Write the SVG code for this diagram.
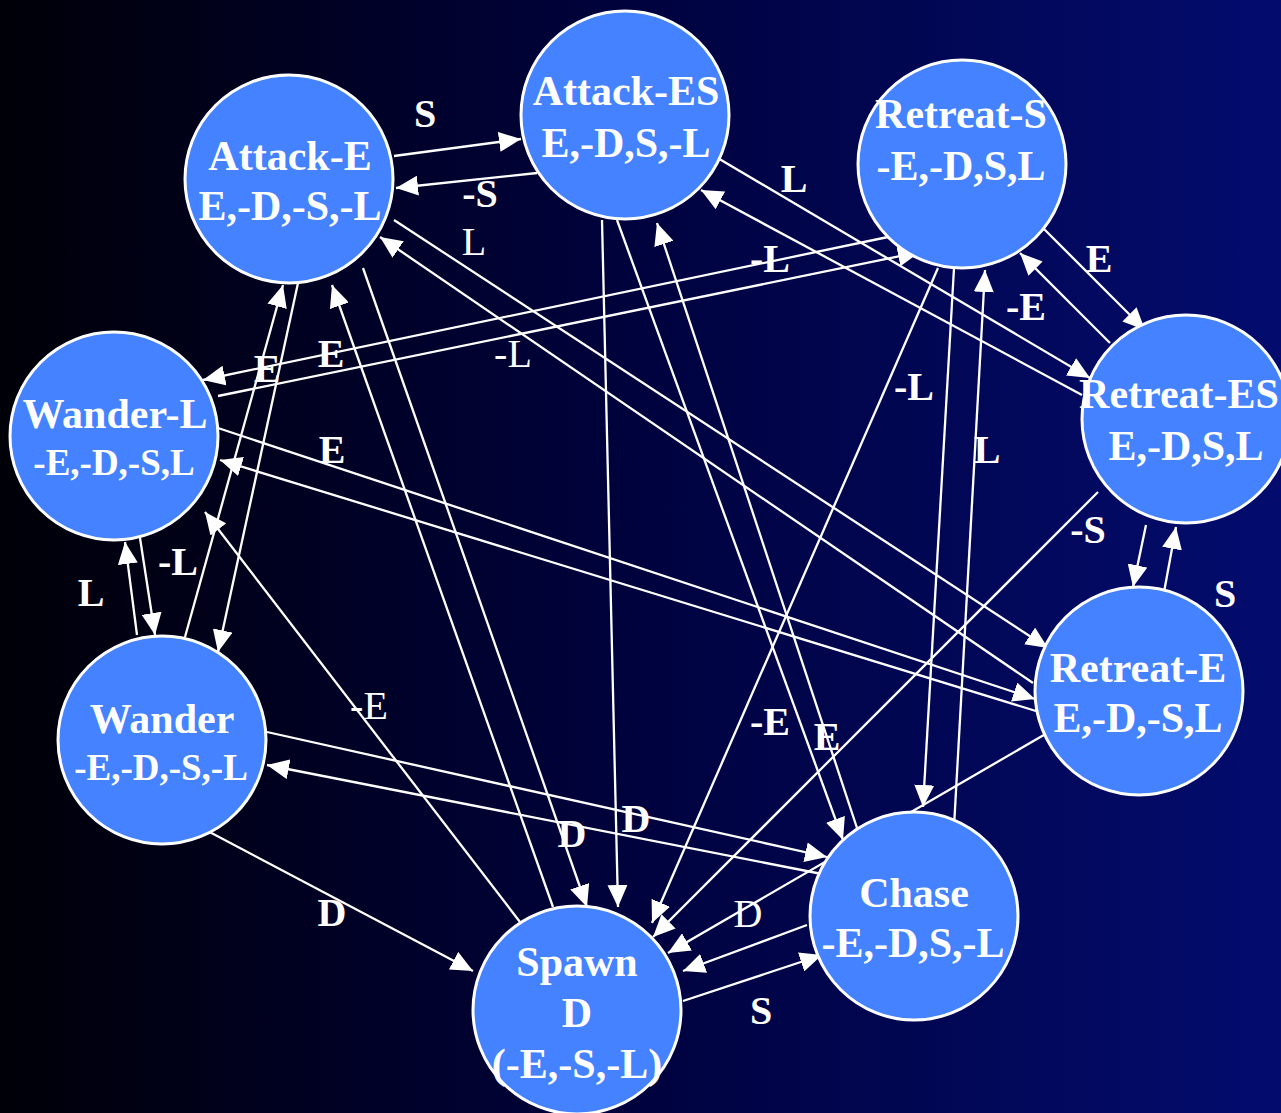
<svg xmlns="http://www.w3.org/2000/svg" width="1281" height="1113" viewBox="0 0 1281 1113">
  <defs>
    <linearGradient id="bg" x1="0" y1="0" x2="1" y2="0">
      <stop offset="0" stop-color="#000008"/>
      <stop offset="0.5" stop-color="#00023e"/>
      <stop offset="1" stop-color="#030c6e"/>
    </linearGradient>
    <marker id="arrow" viewBox="0 0 22 20" markerUnits="userSpaceOnUse" markerWidth="22" markerHeight="20" refX="22" refY="10" orient="auto">
      <path d="M0,0 L22,10 L0,20 z" fill="#ffffff"/>
    </marker>
    <style>
      .node circle { fill: #4482ff; stroke: #ffffff; stroke-width: 3; }
      .node text { fill: #ffffff; font-family: "Liberation Serif", "Times New Roman", serif; font-weight: bold; font-size: 42px; text-anchor: middle; }
      .node text.small { font-size: 37px; }
      #connectors line { stroke: #ffffff; stroke-width: 2.3; marker-end: url(#arrow); }
      #connectors text { fill: #ffffff; font-family: "Liberation Serif", "Times New Roman", serif; font-weight: bold; font-size: 40px; text-anchor: middle; }
      #connectors text.plain { font-weight: normal; }
    </style>
  </defs>

  <rect x="0" y="0" width="1281" height="1113" fill="url(#bg)"/>

  <!-- transitions between states -->
  <g id="connectors">
    <line x1="394" y1="156" x2="521" y2="139"/>
    <line x1="537" y1="173" x2="396" y2="188"/>
    <line x1="716" y1="157" x2="1090" y2="378"/>
    <line x1="1082" y1="395" x2="701" y2="190"/>
    <line x1="394" y1="220" x2="1048" y2="648"/>
    <line x1="1033" y1="683" x2="380" y2="237"/>
    <line x1="298" y1="283" x2="218" y2="652"/>
    <line x1="185" y1="637" x2="283" y2="285"/>
    <line x1="363" y1="268" x2="587" y2="907"/>
    <line x1="553" y1="907" x2="332" y2="285"/>
    <line x1="602" y1="220" x2="618" y2="907"/>
    <line x1="617" y1="220" x2="843" y2="840"/>
    <line x1="857" y1="828" x2="657" y2="223"/>
    <line x1="888" y1="237" x2="203" y2="380"/>
    <line x1="218" y1="396" x2="920" y2="252"/>
    <line x1="1035" y1="220" x2="1145" y2="330"/>
    <line x1="1110" y1="343" x2="1020" y2="253"/>
    <line x1="938" y1="268" x2="652" y2="923"/>
    <line x1="954" y1="268" x2="923" y2="807"/>
    <line x1="954" y1="827" x2="985" y2="270"/>
    <line x1="1146" y1="525" x2="1133" y2="587"/>
    <line x1="1162" y1="603" x2="1176" y2="527"/>
    <line x1="1098" y1="492" x2="653" y2="937"/>
    <line x1="218" y1="428" x2="1035" y2="699"/>
    <line x1="1049" y1="715" x2="220" y2="460"/>
    <line x1="1049" y1="732" x2="668" y2="953"/>
    <line x1="138" y1="525" x2="155" y2="635"/>
    <line x1="137" y1="635" x2="125" y2="542"/>
    <line x1="520" y1="922" x2="205" y2="512"/>
    <line x1="267" y1="732" x2="827" y2="857"/>
    <line x1="827" y1="875" x2="267" y2="765"/>
    <line x1="202" y1="828" x2="473" y2="971"/>
    <line x1="807" y1="925" x2="683" y2="971"/>
    <line x1="683" y1="1001" x2="822" y2="955"/>

    <text x="425" y="127">S</text>
    <text x="480" y="207">-S</text>
    <text class="plain" x="474" y="255">L</text>
    <text x="794" y="192">L</text>
    <text x="770" y="272">-L</text>
    <text x="1099" y="272">E</text>
    <text x="1026" y="320">-E</text>
    <text x="914" y="400">-L</text>
    <text x="987" y="463">L</text>
    <text x="1088" y="543">-S</text>
    <text x="1225" y="607">S</text>
    <text x="827" y="750">E</text>
    <text x="770" y="735">-E</text>
    <text x="267" y="382">E</text>
    <text x="331" y="367">E</text>
    <text x="332" y="463">E</text>
    <text class="plain" x="513" y="367">-L</text>
    <text x="178" y="575">-L</text>
    <text x="91" y="606">L</text>
    <text class="plain" x="369" y="719">-E</text>
    <text x="572" y="847">D</text>
    <text x="636" y="832">D</text>
    <text class="plain" x="748" y="927">D</text>
    <text x="332" y="926">D</text>
    <text x="761" y="1024">S</text>
  </g>

  <g id="attack-e" class="node">
    <circle cx="289" cy="179" r="104"/>
    <text x="290" y="170">Attack-E</text>
    <text x="290" y="220">E,-D,-S,-L</text>
  </g>
  <g id="attack-es" class="node">
    <circle cx="625" cy="115" r="104"/>
    <text x="626" y="105">Attack-ES</text>
    <text x="626" y="157">E,-D,S,-L</text>
  </g>
  <g id="retreat-s" class="node">
    <circle cx="962" cy="164" r="104"/>
    <text x="961" y="128">Retreat-S</text>
    <text x="961" y="180">-E,-D,S,L</text>
  </g>
  <g id="retreat-es" class="node">
    <circle cx="1186" cy="419" r="104"/>
    <text x="1179" y="408">Retreat-ES</text>
    <text x="1186" y="460">E,-D,S,L</text>
  </g>
  <g id="retreat-e" class="node">
    <circle cx="1139" cy="691" r="104"/>
    <text x="1138" y="682">Retreat-E</text>
    <text x="1138" y="732">E,-D,-S,L</text>
  </g>
  <g id="chase" class="node">
    <circle cx="914" cy="916" r="104"/>
    <text x="914" y="907">Chase</text>
    <text x="913" y="957">-E,-D,S,-L</text>
  </g>
  <g id="spawn" class="node">
    <circle cx="577" cy="1010" r="104"/>
    <text x="577" y="976">Spawn</text>
    <text x="577" y="1027">D</text>
    <text x="577" y="1078">(-E,-S,-L)</text>
  </g>
  <g id="wander" class="node">
    <circle cx="162" cy="740" r="104"/>
    <text x="162" y="733">Wander</text>
    <text class="small" x="161" y="780">-E,-D,-S,-L</text>
  </g>
  <g id="wander-l" class="node">
    <circle cx="114" cy="436" r="104"/>
    <text x="115" y="428">Wander-L</text>
    <text class="small" x="114" y="475">-E,-D,-S,L</text>
  </g>
</svg>
